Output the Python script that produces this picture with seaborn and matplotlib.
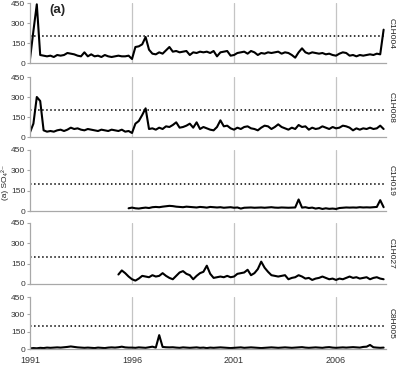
import numpy as np
import pandas as pd
import matplotlib
matplotlib.use("Agg")
import matplotlib.pyplot as plt
import seaborn as sns

# bimonthly SO4(2-) values
c1h004 = [30, 240, 440, 60, 55, 50,
          55, 45, 60, 55, 60, 75,
          70, 65, 55, 50, 80, 50,
          65, 50, 55, 45, 60, 50,
          45, 50, 55, 50, 50, 55,
          30, 120, 125, 140, 195, 100,
          70, 65, 80, 70, 95, 120,
          85, 90, 80, 85, 90, 60,
          80, 75, 85, 80, 85, 75,
          90, 50, 80, 85, 90, 55,
          60, 75, 80, 85, 70, 90,
          80, 60, 75, 70, 80, 75,
          80, 85, 70, 80, 75, 60,
          40, 80, 110, 80, 70, 80,
          75, 70, 75, 65, 70, 60,
          55, 70, 80, 75, 55, 60,
          50, 60, 55, 60, 65, 60,
          70, 65, 250]

c1h008 = [35, 100, 300, 270, 50, 40,
          45, 40, 50, 55, 45, 55,
          70, 60, 65, 55, 50, 60,
          55, 50, 45, 55, 50, 45,
          55, 50, 45, 55, 40, 45,
          30, 100, 120, 165, 215, 60,
          65, 55, 70, 60, 80, 75,
          90, 110, 70, 75, 85, 100,
          70, 110, 60, 75, 65, 55,
          50, 75, 125, 80, 85, 65,
          55, 70, 60, 75, 80, 65,
          60, 50, 70, 85, 80, 60,
          75, 95, 75, 65, 55, 70,
          60, 90, 75, 80, 55, 70,
          60, 65, 80, 70, 60, 75,
          65, 70, 85, 80, 70, 50,
          65, 55, 65, 60, 70, 60,
          65, 85, 60]

c1h019 = [20,
          25, 20, 18, 22, 25, 22,
          28, 30, 28, 32, 35, 38,
          36, 32, 30, 28, 32, 30,
          28, 26, 30, 28, 25, 30,
          28, 26, 28, 24, 26, 28,
          24, 26, 18, 24, 25, 26,
          24, 25, 26, 24, 26, 28,
          25, 24, 26, 25, 24, 25,
          26, 85, 25, 28, 22, 25,
          18, 22, 15, 20, 16, 18,
          15, 22, 24, 26, 25, 26,
          25, 28, 26, 27, 26, 28,
          30, 80, 28]

c1h027 = [70, 100, 80, 55,
          35, 25, 40, 60, 55, 50,
          65, 55, 60, 80, 60, 45,
          35, 60, 85, 95, 75, 65,
          35, 60, 80, 90, 135, 75,
          45, 50, 55, 50, 60, 50,
          55, 75, 80, 85, 105, 65,
          80, 110, 165, 120, 90, 65,
          60, 55, 60, 65, 35, 45,
          50, 65, 55, 40, 45, 30,
          40, 45, 55, 45, 35, 40,
          30, 40, 35, 45, 55, 45,
          50, 40, 45, 50, 35, 45,
          50, 40, 35]

c8h005 = [5, 8, 6, 10, 8, 12,
          10, 12, 14, 12, 15, 18,
          22, 18, 14, 12, 10, 12,
          10, 8, 12, 10, 8, 12,
          14, 12, 15, 20, 14, 12,
          12, 10, 14, 12, 10, 15,
          20, 12, 120, 18, 15, 14,
          15, 12, 10, 14, 12, 10,
          12, 14, 10, 12, 8, 12,
          10, 12, 14, 12, 10, 8,
          10, 12, 14, 10, 12, 14,
          12, 10, 8, 10, 12, 14,
          12, 10, 12, 14, 12, 10,
          12, 14, 16, 12, 10, 12,
          14, 12, 10, 14, 16, 12,
          10, 12, 14, 12, 14, 16,
          14, 12, 18, 20, 35, 15,
          12, 10, 12]

stations = ["C1H004", "C1H008", "C1H019", "C1H027", "C8H005"]
series = [c1h004, c1h008, c1h019, c1h027, c8h005]
start_year = [1991.0, 1991.0, 1995 + 5 / 6, 1995 + 2 / 6, 1991.0]
guideline = 200
y_ticks = [0, 150, 300, 450]
x_ticks = [1991, 1996, 2001, 2006]

frames = []
for name, vals, y0 in zip(stations, series, start_year):
    frames.append(pd.DataFrame({"year": y0 + np.arange(len(vals)) / 6,
                                "so4": vals, "station": name}))
df = pd.concat(frames, ignore_index=True)

sns.set_theme(style="white")
plt.rcParams["font.family"] = ["Liberation Sans", "DejaVu Sans"]

W, H = 396, 377
fig = plt.figure(figsize=(W / 100, H / 100), dpi=100)

# (top pixel, bottom pixel) of each panel
rows = [(3, 63), (77, 137), (150, 211), (223, 284), (297, 349)]
left, right = 30, 386
grid_col = "#c4c4c4"

for i, (name, (top, bot)) in enumerate(zip(stations, rows)):
    ax = fig.add_axes([left / W, 1 - bot / H, (right - left) / W, (bot - top) / H])
    for g in x_ticks[1:]:
        ax.axvline(g, color=grid_col, lw=0.9, zorder=0)
    ax.axhline(guideline, color="black", ls=":", lw=1.1, zorder=1)
    sns.lineplot(data=df[df.station == name], x="year", y="so4",
                 color="black", lw=1.5, ax=ax, zorder=2)
    ax.set_xlim(1991, 2008.45)
    ax.set_ylim(0, 450)
    ax.set_yticks(y_ticks)
    ax.set_xticks(x_ticks)
    ax.set_xlabel("")
    ax.set_ylabel("")
    for s in ["top", "right"]:
        ax.spines[s].set_visible(False)
    for s in ["left", "bottom"]:
        ax.spines[s].set_color("#a8a8a8")
        ax.spines[s].set_linewidth(0.9)
    ax.tick_params(axis="y", length=2, width=0.8, color="#a8a8a8",
                   labelsize=6, labelcolor="#333333", pad=1.5, left=True)
    ax.tick_params(axis="x", length=0, labelsize=6.5, labelcolor="#333333", pad=5)
    if i < len(stations) - 1:
        ax.set_xticklabels([])
    fig.text(391.5 / W, 1 - (top + bot) / 2 / H, name, rotation=270,
             ha="center", va="center", fontsize=6, color="#222222")
    ax.set_facecolor("none")

fig.text(57 / W, 1 - 10 / H, "(a)", fontsize=9.5, fontweight="bold",
         ha="center", va="center")
fig.text(5.5 / W, 1 - 182 / H, "(a) SO\u2084\u00b2\u207b", rotation=90,
         fontsize=6, ha="center", va="center", color="#222222")

fig.savefig("out.png", dpi=100)
